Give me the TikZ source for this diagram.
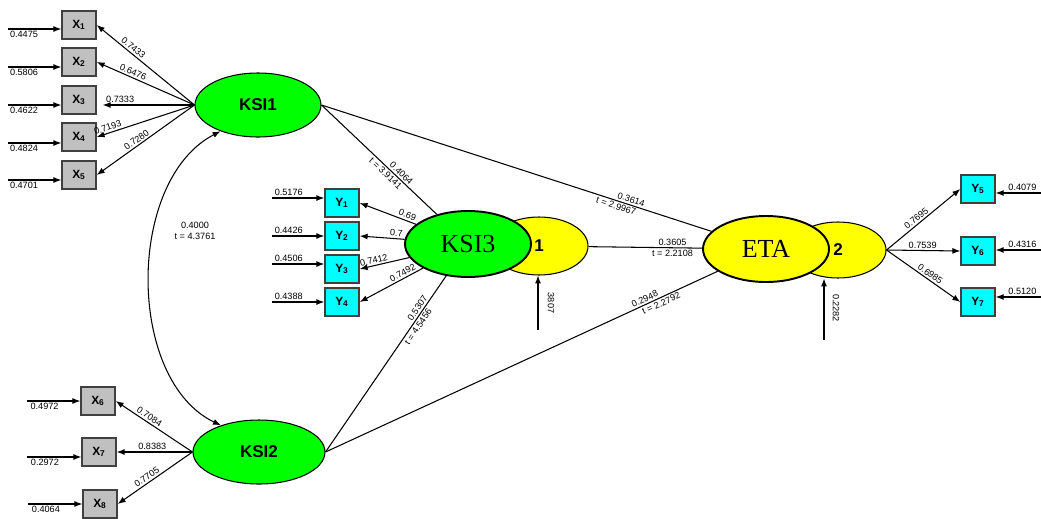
\documentclass[tikz,border=0pt]{standalone}
\usepackage{fontspec}
\setmainfont{Liberation Sans}
\newfontfamily\tnr{Liberation Serif}
\usetikzlibrary{shapes.geometric,arrows.meta}
\definecolor{lgray}{RGB}{192,192,192}
\definecolor{aqua}{RGB}{0,255,255}
\definecolor{lime}{RGB}{0,255,0}
\definecolor{yel}{RGB}{255,255,0}
\tikzset{every node/.style={inner sep=0pt}}
\tikzset{lv/.style={ellipse,draw,fill=lime,font=\fontsize{9.7}{11}\selectfont\bfseries}}
\tikzset{big/.style={ellipse,draw,line width=1.1pt,minimum width=2.52cm,minimum height=1.32cm,font=\tnr\fontsize{14.8}{16}\selectfont}}
\tikzset{r/.style={ellipse,draw,fill=yel,font=\fontsize{9.7}{11}\selectfont\bfseries}}
\tikzset{xb/.style={rectangle,draw=black!75,line width=0.8pt,fill=lgray,minimum width=0.68cm,minimum height=0.56cm,font=\fontsize{6.8}{8}\selectfont\bfseries}}
\tikzset{yb/.style={xb,fill=aqua}}
\tikzset{l/.style={inner sep=1pt,font=\fontsize{5.2}{6}\selectfont}}
\tikzset{a/.style={->,>={Latex[length=4.5pt,width=3.4pt]}}}

\begin{document}
\begin{tikzpicture}[x=0.02cm,y=-0.02cm,line width=0.6pt]
  \useasboundingbox (0,0) rectangle (1041,518);
  % latent variables
  \node[lv,minimum width=2.52cm,minimum height=1.28cm] (K1) at (258,105) {KSI1};
  \node[lv,minimum width=2.64cm,minimum height=1.28cm] (K2) at (259,452) {KSI2};
  \node[r,minimum width=1.96cm,minimum height=1.16cm] (R1) at (539,246) {1};
  \node[big,fill=lime] (K3) at (468,244) {KSI3};
  \node[r,minimum width=1.92cm,minimum height=1.12cm] (R2) at (838,250) {2};
  \node[big,fill=yel] (E) at (766,249) {ETA};
  % indicators
  \node[xb] (X1) at (79,25) {X\textsubscript{1}};
  \node[xb] (X2) at (79,62) {X\textsubscript{2}};
  \node[xb] (X3) at (79,100) {X\textsubscript{3}};
  \node[xb] (X4) at (79,137) {X\textsubscript{4}};
  \node[xb] (X5) at (79,175) {X\textsubscript{5}};
  \node[xb] (X6) at (98,401) {X\textsubscript{6}};
  \node[xb] (X7) at (99,452) {X\textsubscript{7}};
  \node[xb] (X8) at (100,504) {X\textsubscript{8}};
  \node[yb] (Y1) at (342,203) {Y\textsubscript{1}};
  \node[yb] (Y2) at (342,236) {Y\textsubscript{2}};
  \node[yb] (Y3) at (342,269) {Y\textsubscript{3}};
  \node[yb] (Y4) at (342,302) {Y\textsubscript{4}};
  \node[yb] (Y5) at (978,189) {Y\textsubscript{5}};
  \node[yb] (Y6) at (978,251) {Y\textsubscript{6}};
  \node[yb] (Y7) at (978,302) {Y\textsubscript{7}};
  % loadings
  \draw[a] (K1.west) -- node[l,above,sloped,pos=0.66] {0.7433} (X1.east);
  \draw[a] (K1.west) -- node[l,above,sloped,pos=0.65] {0.6476} (X2.east);
  \draw[a,shorten >=1.2mm] (K1.west) -- node[l,above,pos=0.76] {0.7333} (K1.west -| X3.east);
  \draw[a] (K1.west) -- node[l,above,sloped,pos=0.87] {0.7193} (X4.east);
  \draw[a] (K1.west) -- node[l,above,sloped,pos=0.56] {0.7280} (X5.east);
  \draw[a] (K2.west) -- node[l,above,sloped,pos=0.6] {0.7084} (X6.east);
  \draw[a] (K2.west) -- node[l,above,pos=0.53] {0.8383} (X7.east);
  \draw[a] (K2.west) -- node[l,above,sloped,pos=0.57] {0.7705} (X8.east);
  \draw[a] (K3) -- node[l,sloped,pos=0,anchor=south east] {0.69} (Y1.east);
  \draw[a] (K3) -- node[l,sloped,pos=0,anchor=south east] {0.7} (Y2.east);
  \draw[a] (K3) -- node[l,above,sloped,pos=0.69] {0.7412} (Y3.east);
  \draw[a] (K3) -- node[l,above,sloped,pos=0.28] {0.7492} (Y4.east);
  \draw[a] (R2.east) -- node[l,above,sloped,pos=0.45] {0.7695} (Y5.west);
  \draw[a] (R2.east) -- node[l,above,pos=0.49] {0.7539} (Y6.west);
  \draw[a] (R2.east) -- node[l,above,sloped,pos=0.55] {0.6985} (Y7.west);
  % error terms
  \coordinate (eX1) at (8,29);
  \coordinate (eX2) at (8,67);
  \coordinate (eX3) at (8,105);
  \coordinate (eX4) at (8,143);
  \coordinate (eX5) at (8,180);
  \coordinate (eX6) at (27,401);
  \coordinate (eX7) at (27,457);
  \coordinate (eX8) at (28,504);
  \draw[a] (eX1) -- node[l,below,pos=0.3] {0.4475} (eX1 -| X1.west);
  \draw[a] (eX2) -- node[l,below,pos=0.3] {0.5806} (eX2 -| X2.west);
  \draw[a] (eX3) -- node[l,below,pos=0.3] {0.4622} (eX3 -| X3.west);
  \draw[a] (eX4) -- node[l,below,pos=0.3] {0.4824} (eX4 -| X4.west);
  \draw[a] (eX5) -- node[l,below,pos=0.3] {0.4701} (eX5 -| X5.west);
  \draw[a] (eX6) -- node[l,below,pos=0.33] {0.4972} (eX6 -| X6.west);
  \draw[a] (eX7) -- node[l,below,pos=0.33] {0.2972} (eX7 -| X7.west);
  \draw[a] (eX8) -- node[l,below,pos=0.33] {0.4064} (eX8 -| X8.west);
  \coordinate (eY1) at (272,198);
  \coordinate (eY2) at (272,236);
  \coordinate (eY3) at (272,264);
  \coordinate (eY4) at (272,302);
  \coordinate (eY5) at (1041,193);
  \coordinate (eY6) at (1041,250);
  \coordinate (eY7) at (1041,297);
  \draw[a] (eY1) -- node[l,above,pos=0.32] {0.5176} (eY1 -| Y1.west);
  \draw[a] (eY2) -- node[l,above,pos=0.32] {0.4426} (eY2 -| Y2.west);
  \draw[a] (eY3) -- node[l,above,pos=0.32] {0.4506} (eY3 -| Y3.west);
  \draw[a] (eY4) -- node[l,above,pos=0.32] {0.4388} (eY4 -| Y4.west);
  \draw[a] (eY5) -- node[l,above,pos=0.41] {0.4079} (eY5 -| Y5.east);
  \draw[a] (eY6) -- node[l,above,pos=0.41] {0.4316} (eY6 -| Y6.east);
  \draw[a] (eY7) -- node[l,above,pos=0.41] {0.5120} (eY7 -| Y7.east);
  \coordinate (eR1) at (538,330);
  \coordinate (eR2) at (824,340);
  \draw[a] (eR1) -- (eR1 |- R1.south);
  \draw[a] (eR2) -- (eR2 |- R2.south);
  \node[l,rotate=-90] (v1) at (551,303) {3807};
  \node[l,rotate=-90] (v2) at (836,308) {0.2282};
  % structural paths
  \draw (K1.east) -- node[l,above,sloped,pos=0.66] {0.4064} node[l,below,sloped,pos=0.59] {t = 3.9141} (K3);
  \draw (K1.east) -- node[l,above,sloped,pos=0.79] {0.3614} node[l,below,sloped,pos=0.76] {t = 2.9967} (E);
  \draw (R1) -- node[l,above,pos=0.74] {0.3605} node[l,below,pos=0.74] {t = 2.2108} (E);
  \draw (K2.east) -- node[l,above,sloped,pos=0.8] {0.5307} node[l,below,sloped,pos=0.73] {t = 4.5456} (K3);
  \draw (K2.east) -- node[l,above,sloped,pos=0.82] {0.2948} node[l,below,sloped,pos=0.85] {t = 2.2792} (E);
  % correlation
  \draw[a,<->] (K1.215) .. controls (126,180) and (126,380) .. (K2.145);
  \node[l,align=center] (r12) at (195,231) {0.4000\\t = 4.3761};
\end{tikzpicture}
\end{document}
